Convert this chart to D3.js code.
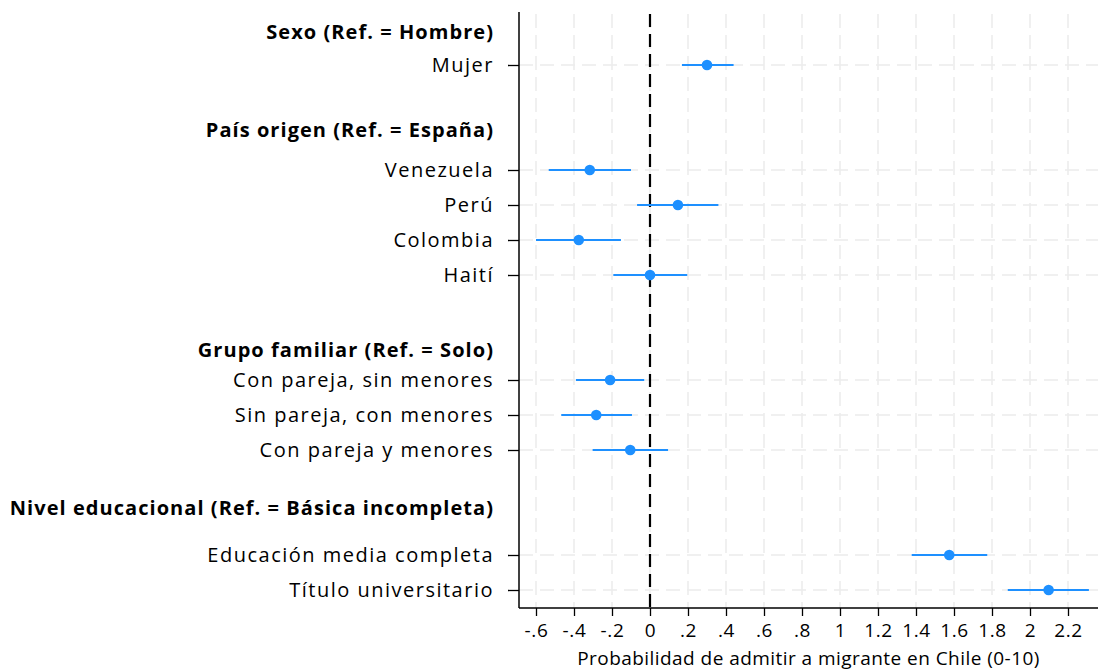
<!DOCTYPE html>
<html><head><meta charset="utf-8">
<script src="https://cdn.jsdelivr.net/npm/d3@7"></script>
<style>
html,body{margin:0;padding:0;background:#fff;}
svg{display:block;font-family:"Open Sans",sans-serif;}
</style></head>
<body>
<svg id="chart" width="1098" height="672"></svg>
<script>
// ---- data ----
const headers = ["Sexo (Ref. = Hombre)", "País origen (Ref. = España)", "Grupo familiar (Ref. = Solo)", "Nivel educacional (Ref. = Básica incompleta)"];
const headerRows = [0.06, 2.86, 9.14, 13.66];
const categories = ["Mujer", "Venezuela", "Perú", "Colombia", "Haití", "Con pareja, sin menores", "Sin pareja, con menores", "Con pareja y menores", "Educación media completa", "Título universitario"];
const rows = [1, 4, 5, 6, 7, 10, 11, 12, 15, 16];
const estimates = [0.30, -0.317, 0.147, -0.375, 0.0, -0.21, -0.283, -0.104, 1.575, 2.098];
const ciLow = [0.168, -0.533, -0.068, -0.60, -0.193, -0.39, -0.467, -0.302, 1.377, 1.883];
const ciHigh = [0.44, -0.10, 0.36, -0.153, 0.196, -0.03, -0.095, 0.095, 1.775, 2.31];
const xTicks = [-0.6, -0.4, -0.2, 0, 0.2, 0.4, 0.6, 0.8, 1, 1.2, 1.4, 1.6, 1.8, 2, 2.2];
const xTickLabels = ["-.6", "-.4", "-.2", "0", ".2", ".4", ".6", ".8", "1", "1.2", "1.4", "1.6", "1.8", "2", "2.2"];
const xTitle = "Probabilidad de admitir a migrante en Chile (0-10)";

// ---- layout ----
const svg = d3.select("#chart");
const pLeft = 519, pRight = 1098, pTop = 14, pBottom = 608;
const x = d3.scaleLinear().domain([0, 1]).range([650, 840]);
const y = d3.scaleLinear().domain([1, 16]).range([65, 590]);

const blue = "#1e90ff";
const gridCol = "#ebebeb";
const fontFam = "'Open Sans',sans-serif";

// vertical grid
svg.append("g").selectAll("line").data(xTicks).join("line")
  .attr("x1", d => x(d)).attr("x2", d => x(d))
  .attr("y1", pTop).attr("y2", pBottom)
  .attr("stroke", gridCol).attr("stroke-width", 1.5)
  .attr("stroke-dasharray", "14,7");

// horizontal grid
svg.append("g").selectAll("line").data(rows).join("line")
  .attr("x1", pLeft).attr("x2", pRight)
  .attr("y1", d => y(d)).attr("y2", d => y(d))
  .attr("stroke", gridCol).attr("stroke-width", 1.5)
  .attr("stroke-dasharray", "14,7");

// zero line
svg.append("line")
  .attr("x1", x(0)).attr("x2", x(0)).attr("y1", pTop).attr("y2", pBottom)
  .attr("stroke", "#000").attr("stroke-width", 2.2)
  .attr("stroke-dasharray", "13,7");

// CIs
const idx = d3.range(categories.length);
svg.append("g").selectAll("line").data(idx).join("line")
  .attr("x1", i => x(ciLow[i])).attr("x2", i => x(ciHigh[i]))
  .attr("y1", i => y(rows[i])).attr("y2", i => y(rows[i]))
  .attr("stroke", blue).attr("stroke-width", 2.2);

// points
svg.append("g").selectAll("circle").data(idx).join("circle")
  .attr("cx", i => x(estimates[i])).attr("cy", i => y(rows[i]))
  .attr("r", 5.3).attr("fill", blue);

// x axis
const xAxis = d3.axisBottom(x).tickValues(xTicks)
  .tickFormat((d, i) => xTickLabels[i]).tickSize(8).tickPadding(8).tickSizeOuter(0);
const gx = svg.append("g").attr("transform", `translate(0,${pBottom})`).call(xAxis);
gx.select(".domain").remove();
gx.append("line").attr("x1", pLeft).attr("x2", pRight).attr("y1", 0).attr("y2", 0)
  .attr("stroke", "#000").attr("stroke-width", 1.5);
gx.selectAll(".tick line").attr("stroke", "#000").attr("stroke-width", 1.3);
gx.selectAll(".tick text").attr("fill", "#000").style("font-size", "19px")
  .style("font-family", fontFam).style("letter-spacing", "0.6px");

// y axis
const yAxis = d3.axisLeft(y).tickValues(rows)
  .tickFormat((d, i) => categories[i]).tickSize(11).tickPadding(14).tickSizeOuter(0);
const gy = svg.append("g").attr("transform", `translate(${pLeft},0)`).call(yAxis);
gy.select(".domain").remove();
gy.append("line").attr("x1", 0).attr("x2", 0).attr("y1", pTop - 2).attr("y2", pBottom)
  .attr("stroke", "#000").attr("stroke-width", 1.5);
gy.selectAll(".tick line").attr("stroke", "#000").attr("stroke-width", 1.3);
gy.selectAll(".tick text").attr("fill", "#000").style("font-size", "20px")
  .style("font-family", fontFam).style("letter-spacing", "1.5px");

// headers
svg.append("g").selectAll("text").data(headers).join("text")
  .attr("x", pLeft - 25).attr("y", (d, i) => y(headerRows[i]))
  .attr("dy", "0.35em").attr("text-anchor", "end")
  .style("font-size", "20px").style("font-weight", "bold").attr("fill", "#000")
  .style("font-family", fontFam).style("letter-spacing", "1.05px")
  .text(d => d);

// x title
svg.append("text").attr("x", (pLeft + pRight) / 2).attr("y", 658)
  .attr("dy", "0.35em").attr("text-anchor", "middle")
  .style("font-size", "19px").attr("fill", "#000").style("font-family", fontFam)
  .style("letter-spacing", "0.45px")
  .text(xTitle);
</script>
</body></html>
